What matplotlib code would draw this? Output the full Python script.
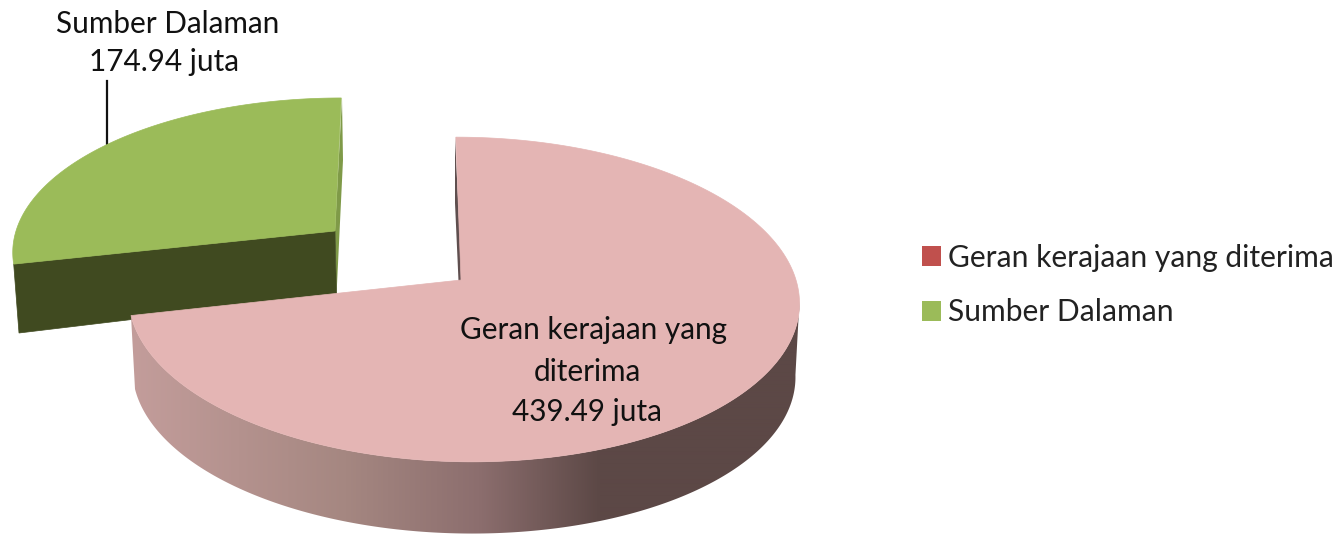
import numpy as np
import matplotlib
matplotlib.use("Agg")
import matplotlib.pyplot as plt
from matplotlib.colors import LinearSegmentedColormap
from matplotlib.patches import Patch, Polygon

categories = ["Geran kerajaan yang diterima", "Sumber Dalaman"]
values = [439.49, 174.94]
label_lines = [["Geran kerajaan yang", "diterima"], ["Sumber Dalaman"]]
legend_colors = ["#c0504d", "#9bbb59"]

plt.rcParams["font.family"] = ["Lato", "DejaVu Sans"]

# sweep of each slice, clockwise from the top
sweep = 360 * np.array(values) / sum(values)


def rim(theta, cx, cy, a=333, b=160, k=0.12, lean=0.0):
    # circle seen in perspective, nearer edge is wider
    th = np.radians(theta)
    u, v = np.sin(th), np.cos(th)
    d = 1 + k * v
    return cx + (a * u + lean * v) / d, cy - b * v / d


fig, ax = plt.subplots(figsize=(13.44, 5.34), dpi=100)
ax.set_position([0, 0, 1, 1])
ax.axis("off")

# %% green slice, pulled out to the upper left
th = np.linspace(sweep[0], 360, 200)
gx, gy = rim(th, 335, 231, a=319, b=149, lean=7)
ax.plot([107, 107], [81, 146], color="#111111", lw=1.6, zorder=1)
ax.add_patch(Polygon([(342, 98), (343, 160), (336.5, 295), (335, 231)],
                     fc="#7f9a48", ec="none", zorder=2))
ax.add_patch(Polygon([(gx[0], gy[0]), (335, 231), (336.5, 295), (19, 333)],
                     fc="#404a20", ec="#404a20", lw=0.5, zorder=2))
ax.add_patch(Polygon(np.r_[[(335, 231)], np.c_[gx, gy]],
                     fc="#9bbb59", ec="#9bbb59", lw=0.5, zorder=3))

# %% pink slice
th = np.linspace(0, sweep[0], 400)
px, py = rim(th, 463, 280, lean=-8)
lx, ly = rim(th, 463, 354, a=329, b=158, lean=-8)

wall_cmap = LinearSegmentedColormap.from_list(
    "wall", [(0, "#c39d9b"), (0.32, "#a58781"), (0.52, "#8c6e6e"),
             (0.7, "#5c4846"), (1, "#5c4846")], N=1024)
# wall runs from the widest point on the right round to the cut edge
side = th >= 97
wall = Polygon(np.r_[np.c_[px[side], py[side]], np.c_[lx[side], ly[side]][::-1]],
               fc="none", ec="none", transform=ax.transData)
ax.add_patch(wall)
img = ax.imshow(np.linspace(0, 1, 670).reshape(1, -1), cmap=wall_cmap, aspect="auto",
                extent=(131, 801, 534, 280), zorder=4, interpolation="bilinear")
img.set_clip_path(wall)
ax.add_patch(Polygon([(455, 137), (455, 203), (458.5, 281), (462, 281)],
                     fc="#5f4f4f", ec="none", zorder=4))
ax.add_patch(Polygon(np.r_[[(461, 280)], np.c_[px, py]],
                     fc="#e4b5b4", ec="#e4b5b4", lw=0.5, zorder=5))

ax.set_xlim(0, 1344)
ax.set_ylim(534, 0)

# %% labels
label_spots = [[(593, 330), (587, 372), (587, 412)], [(168, 24), (164, 62)]]
for lines, val, spots in zip(label_lines, values, label_spots):
    for line, (x, y) in zip(lines + [f"{val:.2f} juta"], spots):
        ax.text(x, y, line, ha="center", va="center", fontsize=21.4,
                color="#111111", zorder=6)

handles = [Patch(fc=c, ec="none") for c in legend_colors]
ax.legend(handles, categories, loc="center left", bbox_to_anchor=(922 / 1344, 1 - 285 / 534),
          frameon=False, fontsize=21.6, handlelength=0.62, handleheight=0.62, handletextpad=0.23,
          labelspacing=0.89, borderpad=0, borderaxespad=0, labelcolor="#222222")

fig.savefig("out.png", dpi=100)
